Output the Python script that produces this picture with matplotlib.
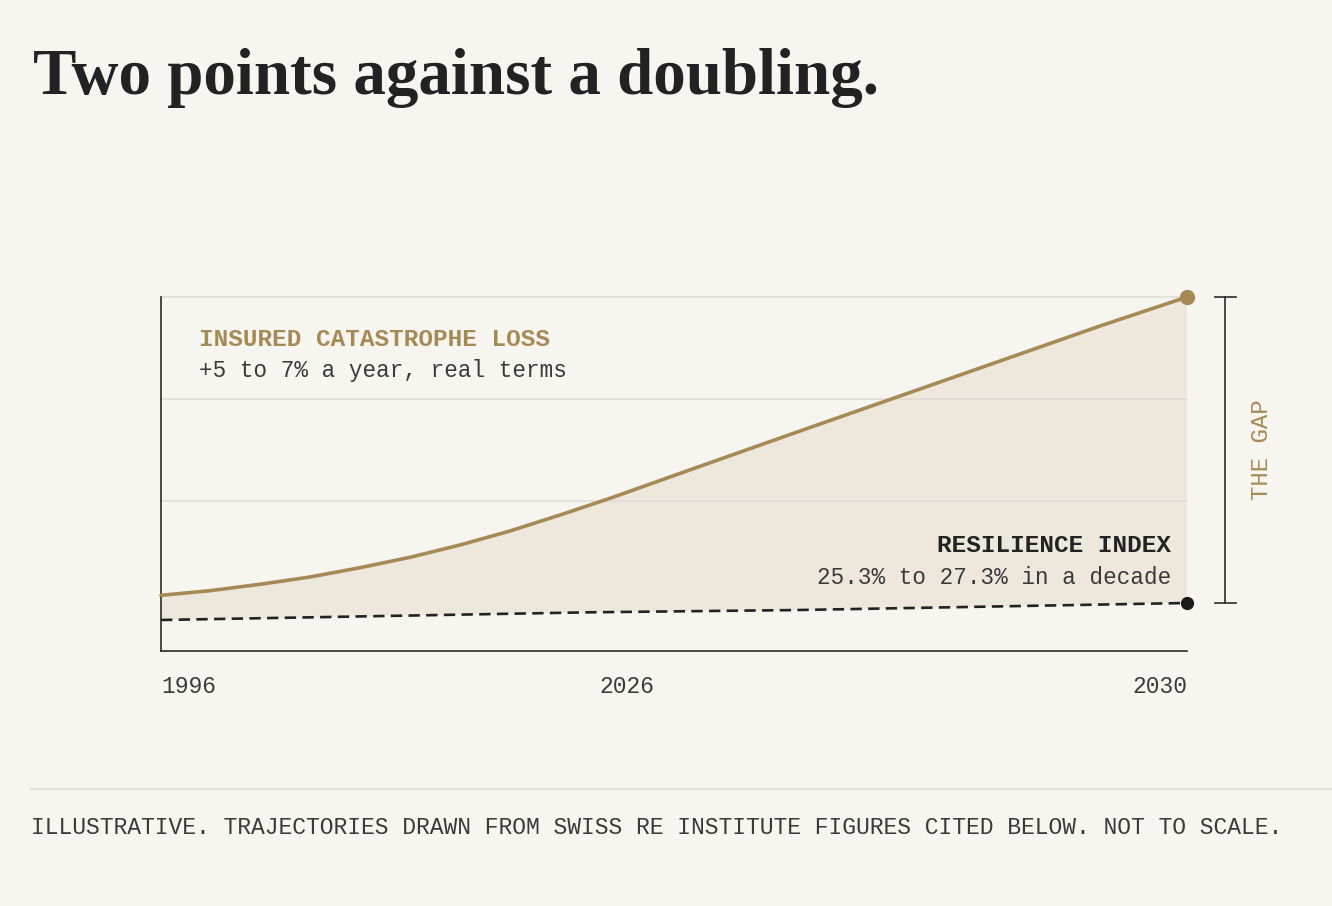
import matplotlib.pyplot as plt
import numpy as np
from matplotlib.lines import Line2D

# colours
BG = "#f6f5f0"
GOLD = "#a68a56"
FILL = "#eee7db"
GRID = "#dedbd3"
INK = "#222222"
SOFT = "#3a3a3a"
MONO = "Liberation Mono"

# data, in position along the (not to scale) axis
loss_x = [0, 49, 99, 149, 199, 249, 299, 349, 399, 449, 539, 639, 739, 839, 939, 1026]
loss_y = [55.7, 60.3, 66.7, 74, 83.3, 93.7, 106, 120, 136, 152.7, 184.7, 220, 255, 290, 325, 354]
res_x = [0, 429, 639, 1026]
res_y = [31, 38.7, 41, 48]
grid_y = [150, 252, 354]
tick_pos = [0, 466, 1026]
tick_labels = ["1996", "2026", "2030"]

W, H = 1332, 906


def fx(px):
    return px / W


def fy(py):
    return 1 - py / H


def main():
    fig = plt.figure(figsize=(W / 100, H / 100), dpi=100, facecolor=BG)
    ax = fig.add_axes([fx(161), fy(651), 1026 / W, 354 / H])
    ax.set_facecolor(BG)
    ax.set_xlim(0, 1026)
    ax.set_ylim(0, 354)

    # gap fill between the two trajectories
    ax.fill(np.r_[loss_x, res_x[::-1]], np.r_[loss_y, res_y[::-1]],
            color=FILL, lw=0, zorder=1)
    for g in grid_y:
        ax.axhline(g, color=GRID, lw=1.1, zorder=2, clip_on=False)

    ax.plot(loss_x, loss_y, color=GOLD, lw=2.6, zorder=4,
            solid_capstyle="round", solid_joinstyle="round", clip_on=False)
    ax.plot(loss_x[-1], loss_y[-1], "o", ms=10, color=GOLD, zorder=5, clip_on=False)
    ax.plot(res_x, res_y, color=INK, lw=1.9, dashes=(4.3, 2.4), zorder=4, clip_on=False)
    ax.plot(res_x[-1], res_y[-1], "o", ms=8.5, color="#1a1a1a", zorder=5, clip_on=False)

    for s in ["top", "right"]:
        ax.spines[s].set_visible(False)
    for s in ["left", "bottom"]:
        ax.spines[s].set_color("#2b2b2b")
        ax.spines[s].set_linewidth(1.2)
    ax.set_yticks([])
    ax.set_xticks(tick_pos, tick_labels)
    ax.tick_params(axis="x", length=0, pad=17, labelsize=16.5, labelcolor=SOFT)
    for lab in ax.get_xticklabels():
        lab.set_fontfamily(MONO)
    for lab, ha in zip(ax.get_xticklabels(), ["left", "center", "right"]):
        lab.set_ha(ha)

    # labels
    ax.text(38, 312, "INSURED CATASTROPHE LOSS", family=MONO, fontsize=17.6,
            weight="bold", color=GOLD, va="center", ha="left")
    ax.text(38, 280, "+5 to 7% a year, real terms", family=MONO, fontsize=16.3,
            color=SOFT, va="center", ha="left")
    ax.text(1010, 105, "RESILIENCE INDEX", family=MONO, fontsize=17.6,
            weight="bold", color=INK, va="center", ha="right")
    ax.text(1010, 73, "25.3% to 27.3% in a decade", family=MONO, fontsize=16.3,
            color=SOFT, va="center", ha="right")

    # the gap bracket
    ax.plot([1064, 1064], [res_y[-1], loss_y[-1]], color="#2b2b2b", lw=1.2, clip_on=False)
    for yy in [res_y[-1], loss_y[-1]]:
        ax.plot([1054, 1075], [yy, yy], color="#2b2b2b", lw=1.2, clip_on=False)
    ax.text(1101, 201, "THE GAP", family=MONO, fontsize=17.3, color=GOLD,
            rotation=90, ha="center", va="center", clip_on=False)

    fig.text(fx(33), fy(94), "Two points against a doubling.", family="Liberation Serif",
             weight="bold", fontsize=46.8, color=INK, va="baseline", ha="left")

    fig.add_artist(Line2D([fx(31), 1], [fy(789), fy(789)], transform=fig.transFigure,
                          color="#dcd9d2", lw=1.2))
    fig.text(fx(31), fy(827),
             "ILLUSTRATIVE. TRAJECTORIES DRAWN FROM SWISS RE INSTITUTE FIGURES CITED BELOW. NOT TO SCALE.",
             family=MONO, fontsize=16.6, color=SOFT, va="center", ha="left")

    fig.savefig("out.png", dpi=100, facecolor=BG)


main()
